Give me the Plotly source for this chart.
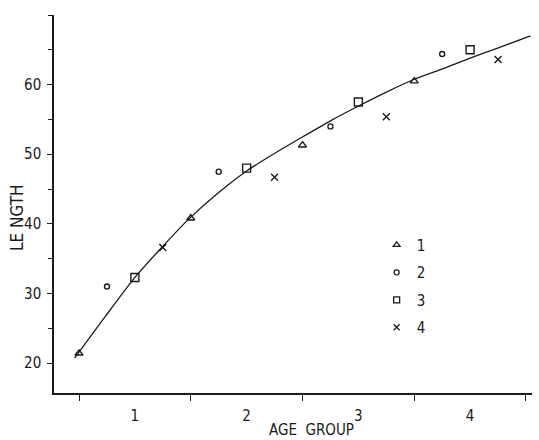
import plotly.graph_objects as go

# Observed points per series (age group, length)
s1_x = [0.5, 1.5, 2.5, 3.5]
s1_y = [21.4, 40.8, 51.3, 60.5]
s2_x = [0.75, 1.75, 2.75, 3.75]
s2_y = [31.0, 47.5, 54.0, 64.4]
s3_x = [1.0, 2.0, 3.0, 4.0]
s3_y = [32.3, 48.0, 57.5, 65.0]
s4_x = [1.25, 2.25, 3.25, 4.25]
s4_y = [36.6, 46.7, 55.4, 63.6]

# Fitted growth curve
curve_x = [0.46, 0.74, 1.0, 1.24, 1.47, 1.75, 2.01, 2.30, 2.48, 2.75, 3.01,
           3.26, 3.49, 3.76, 4.0, 4.24, 4.54]
curve_y = [20.7, 26.8, 32.3, 36.6, 40.5, 44.5, 47.7, 50.6, 52.3, 54.8, 57.0,
           59.0, 60.7, 62.3, 63.8, 65.2, 67.0]

series_names = ["1", "2", "3", "4"]
x_ticks = [1, 2, 3, 4]
x_minor = [0.5, 1.5, 2.5, 3.5, 4.5]
y_ticks = [20, 30, 40, 50, 60]

FONT = "DejaVu Sans Condensed, Liberation Sans, Arial, sans-serif"
INK = "#1a1a1a"

fig = go.Figure()
fig.add_trace(go.Scatter(x=curve_x, y=curve_y, mode="lines", line=dict(color=INK, width=1.3,
                         shape="spline", smoothing=0.6), showlegend=False, hoverinfo="skip"))

symbols = ["triangle-up-open", "circle-open", "square-open", "x-thin-open"]
sizes = [7, 5, 8, 7]
legend_sizes = [6, 5, 6, 6]
for i, (xs, ys) in enumerate([(s1_x, s1_y), (s2_x, s2_y), (s3_x, s3_y), (s4_x, s4_y)]):
    fig.add_trace(go.Scatter(
        x=xs, y=ys, mode="markers", showlegend=False,
        marker=dict(symbol=symbols[i], size=sizes[i], color=INK,
                    line=dict(color=INK, width=1.4)),
    ))
    # legend entry (no data points of its own)
    fig.add_trace(go.Scatter(
        x=[None], y=[None], mode="markers", name=series_names[i], legendgroup=series_names[i],
        marker=dict(symbol=symbols[i], size=legend_sizes[i], color=INK,
                    line=dict(color=INK, width=1.3)),
    ))

fig.update_layout(
    width=539, height=440,
    margin=dict(l=54, r=7, t=15, b=47),
    paper_bgcolor="white", plot_bgcolor="white",
    font=dict(family=FONT, size=15, color=INK),
    showlegend=True,
    legend=dict(x=0.675, y=0.435, xanchor="left", yanchor="top", bgcolor="rgba(0,0,0,0)",
                traceorder="grouped", tracegroupgap=5, font=dict(size=15, family=FONT),
                itemwidth=30),
    xaxis=dict(range=[0.276, 4.554], showgrid=False, zeroline=False,
               showline=True, linecolor=INK, linewidth=1.5,
               tickvals=x_ticks, ticktext=[str(v) for v in x_ticks],
               ticks="", ticklabelstandoff=8,
               minor=dict(tickvals=x_minor, ticks="outside", ticklen=6, tickcolor=INK, tickwidth=1.3)),
    yaxis=dict(range=[15.7, 70], showgrid=False, zeroline=False,
               showline=True, linecolor=INK, linewidth=1.5,
               tickvals=y_ticks, ticks="outside", ticklen=5, tickcolor=INK, tickwidth=1.3,
               ticklabelstandoff=3,
               minor=dict(dtick=5, tick0=0, ticks="outside", ticklen=4, tickcolor=INK, tickwidth=1.3)),
    annotations=[
        dict(text="AGE  GROUP", xref="paper", yref="paper", x=(311 - 54) / 478, y=(393 - 430) / 378,
             xanchor="center", yanchor="middle", showarrow=False, font=dict(size=15, family=FONT)),
        dict(text="LE NGTH", xref="paper", yref="paper", x=(17 - 54) / 478, y=(393 - 218) / 378,
             xanchor="center", yanchor="middle", showarrow=False, textangle=-90,
             font=dict(size=17, family=FONT)),
    ],
)

fig.write_html("out.html")
